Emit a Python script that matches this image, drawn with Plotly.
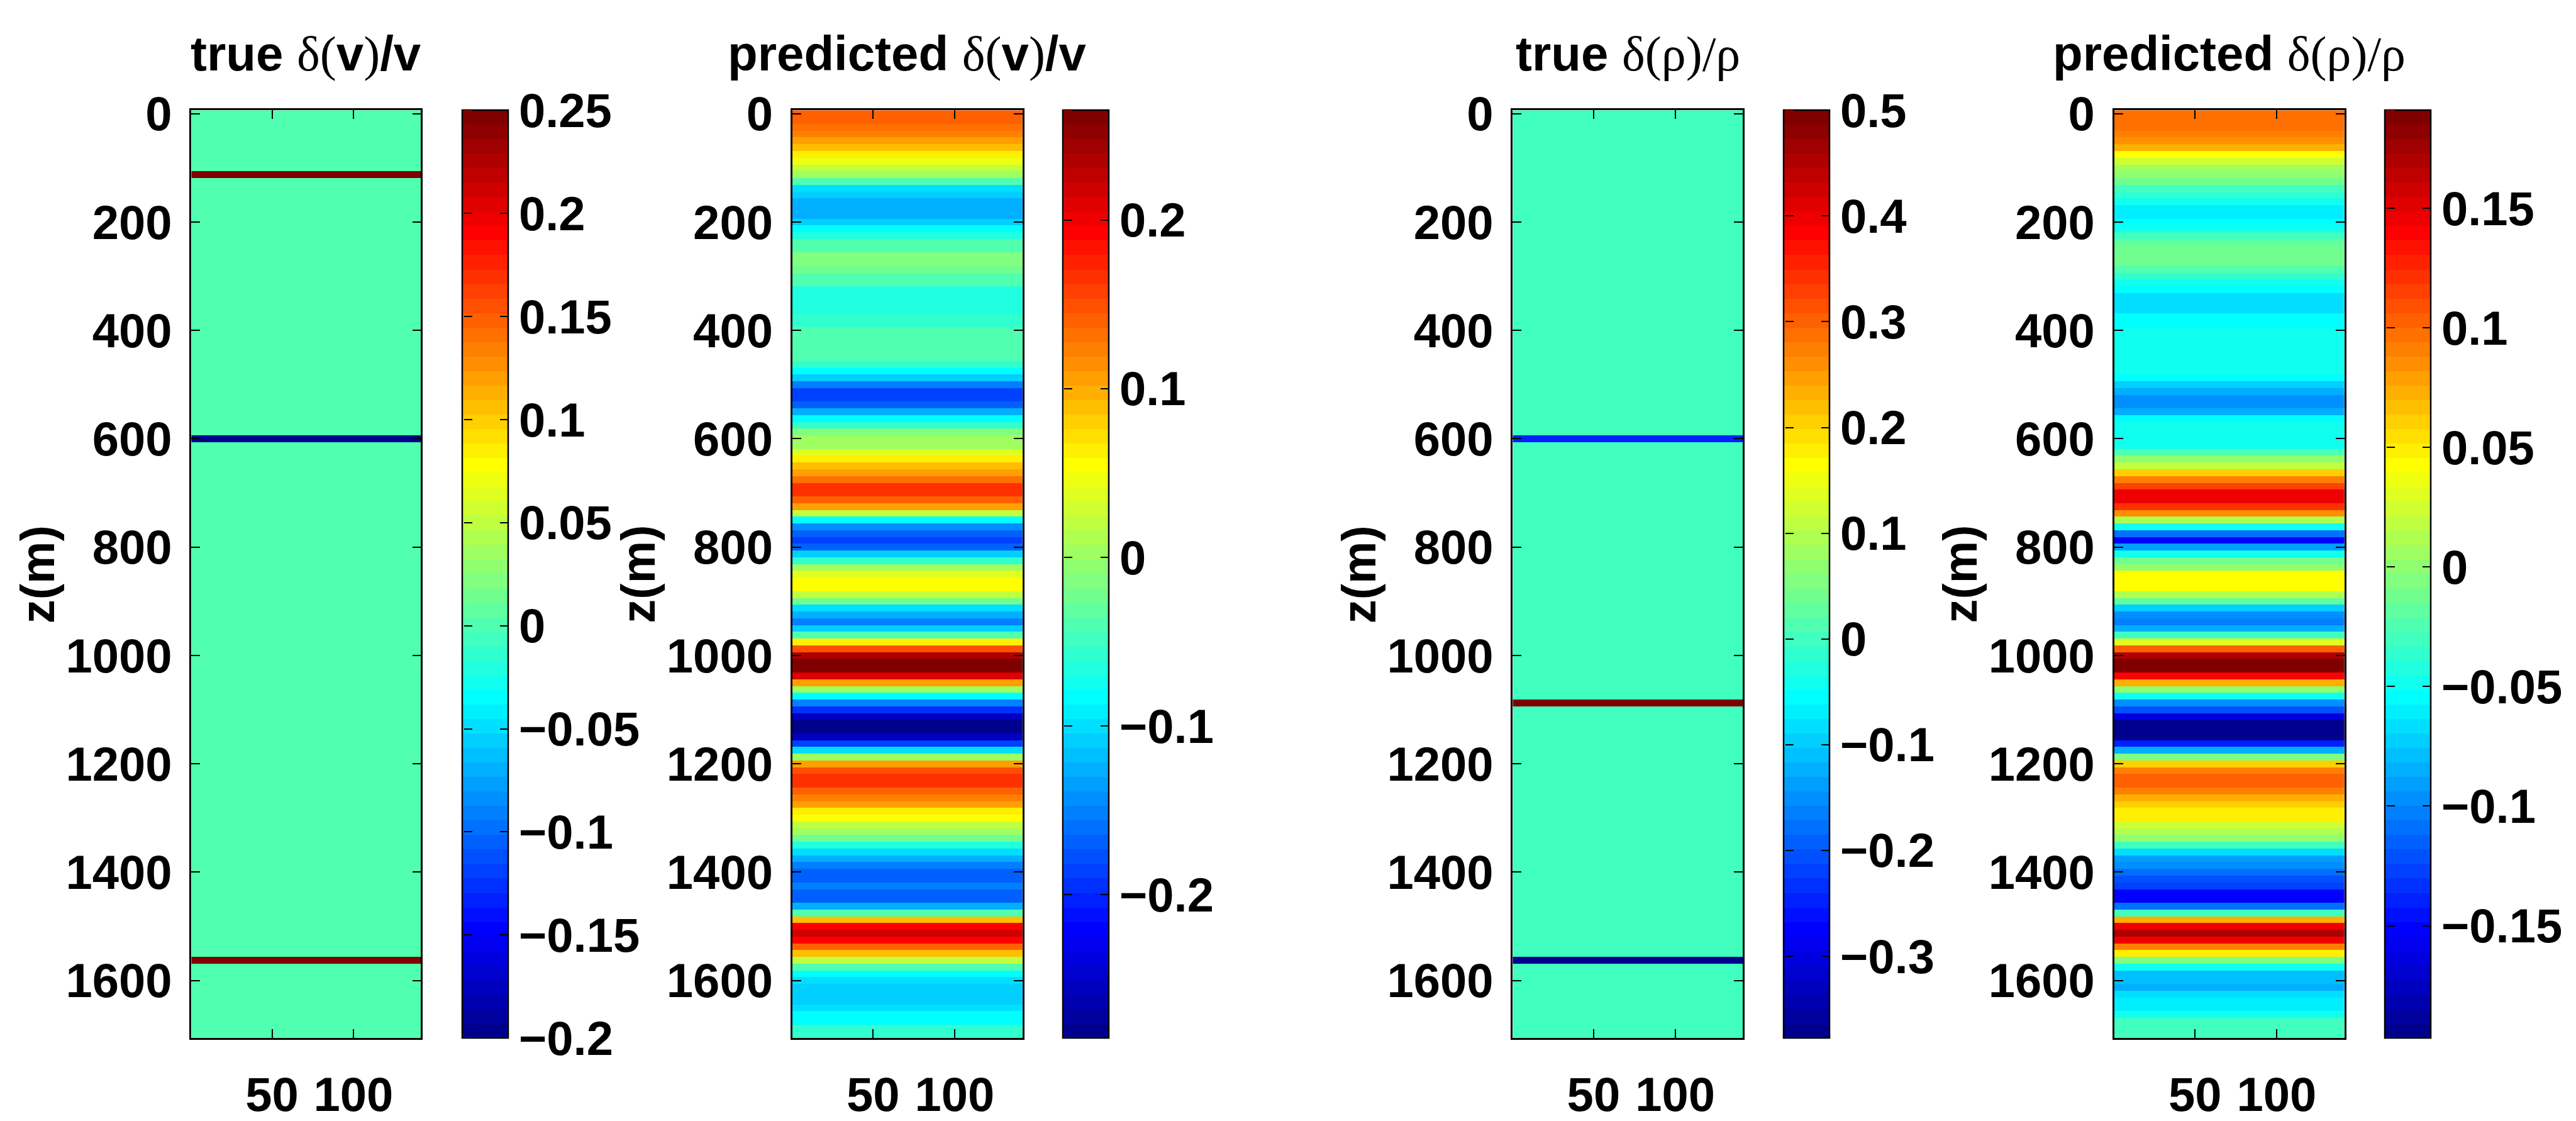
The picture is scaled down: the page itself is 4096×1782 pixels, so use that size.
import numpy as np
import plotly.graph_objects as go

# ---------------- data ----------------
dz = 12.5
depth = [dz * k for k in range(137)]          # z (m), sample centres
trace_x = list(range(1, 142))                  # horizontal sample index

# true models: zero background with thin layers
true_v_layer_depth = [112.5, 600.0, 1562.5]
true_v_layer_value = [0.25, -0.2, 0.25]
true_rho_layer_depth = [600.0, 1087.5, 1562.5]
true_rho_layer_value = [-0.245, 0.5, -0.3775]

# predicted profiles (one value per depth sample)
pred_v = [0.142, 0.142, 0.132, 0.121, 0.110, 0.093, 0.067, 0.042, 0.016, 0.007,
          -0.036, -0.096, -0.113, -0.130, -0.130, -0.130, -0.113, -0.087, -0.062, -0.044,
          -0.036, -0.018, -0.018, -0.027, -0.044, -0.044, -0.070, -0.070, -0.070, -0.070,
          -0.053, -0.053, -0.036, -0.036, -0.036, -0.036, -0.036, -0.053, -0.080, -0.105,
          -0.156, -0.190, -0.190, -0.165, -0.130, -0.087, -0.053, -0.018, -0.001, 0.007,
          0.033, 0.067, 0.093, 0.110, 0.128, 0.162, 0.170, 0.142, 0.102, 0.016,
          -0.079, -0.139, -0.165,
          -0.190, -0.165, -0.113, -0.053, -0.001, 0.033, 0.051, 0.051, 0.016, -0.027,
          -0.096, -0.130, -0.148, -0.113, -0.036, 0.067, 0.153, 0.231, 0.262, 0.262,
          0.205, 0.110, 0.007, -0.079, -0.148, -0.199, -0.259, -0.280, -0.280, -0.251,
          -0.182, -0.096, 0.007, 0.102, 0.153, 0.170, 0.170, 0.142, 0.121, 0.102,
          0.067, 0.051, 0.024, 0.007, -0.027, -0.070, -0.096, -0.130, -0.148, -0.165,
          -0.165, -0.156, -0.173, -0.173, -0.130, -0.036, 0.093, 0.188, 0.222, 0.196,
          0.142, 0.085, 0.016, -0.036, -0.079, -0.096, -0.113, -0.113, -0.109, -0.096,
          -0.079, -0.079, -0.053, -0.053]

pred_rho = [0.100, 0.100, 0.100, 0.094, 0.082, 0.070, 0.040, 0.027, 0.009, -0.003,
            -0.015, -0.033, -0.039, -0.046, -0.060, -0.060, -0.057, -0.051, -0.033, -0.021,
            -0.015, -0.015, -0.015, -0.027, -0.039, -0.051, -0.057, -0.064, -0.064, -0.064,
            -0.055, -0.055, -0.046, -0.046, -0.046, -0.046, -0.046, -0.046,
            -0.051, -0.057, -0.070, -0.082, -0.100, -0.100, -0.082, -0.057,
            -0.046, -0.046, -0.046, -0.046,
            -0.027, -0.003, 0.021, 0.058, 0.094, 0.118, 0.143, 0.143, 0.124, 0.082,
            0.015, -0.051, -0.112,
            -0.149, -0.088, -0.046, -0.015, 0.003, 0.040, 0.040, 0.040, 0.015, -0.021,
            -0.070, -0.094, -0.106, -0.082, -0.033, 0.033, 0.104, 0.167, 0.187, 0.187,
            0.137, 0.070, -0.003, -0.051, -0.094, -0.124, -0.166, -0.191, -0.191, -0.191,
            -0.142, -0.082, -0.009, 0.058, 0.094, 0.104, 0.104, 0.088, 0.070, 0.060,
            0.051, 0.051, 0.027, 0.015, -0.003, -0.033, -0.064, -0.088, -0.100, -0.112,
            -0.124, -0.130, -0.149, -0.149, -0.112, -0.033, 0.070, 0.143, 0.167, 0.143,
            0.094, 0.051, -0.009, -0.051, -0.076, -0.076, -0.082, -0.064, -0.060, -0.060,
            -0.051, -0.033, -0.033, -0.033]

# colour ranges (colorbar limits)
crange_true_v = [-0.2, 0.25]
crange_pred_v = [-0.285, 0.265]
crange_true_rho = [-0.3775, 0.5]
crange_pred_rho = [-0.197, 0.191]

cb_ticks_true_v = [-0.2, -0.15, -0.1, -0.05, 0, 0.05, 0.1, 0.15, 0.2, 0.25]
cb_ticks_pred_v = [-0.2, -0.1, 0, 0.1, 0.2]
cb_ticks_true_rho = [-0.3, -0.2, -0.1, 0, 0.1, 0.2, 0.3, 0.4, 0.5]
cb_ticks_pred_rho = [-0.15, -0.1, -0.05, 0, 0.05, 0.1, 0.15]

y_ticks = [0, 200, 400, 600, 800, 1000, 1200, 1400, 1600]
x_ticks = [50, 100]

# ---------------- helpers ----------------
def jet64():
    m = 64
    n = 16
    u = [i / n for i in range(1, n + 1)] + [1.0] * (n - 1) + [i / n for i in range(n, 0, -1)]
    g = [8 + i for i in range(1, len(u) + 1)]
    r = [gi + n for gi in g]
    b = [gi - n for gi in g]
    J = [[0.0, 0.0, 0.0] for _ in range(m)]
    for idx, ui in enumerate(u):
        if 1 <= r[idx] <= m:
            J[r[idx] - 1][0] = ui
        if 1 <= g[idx] <= m:
            J[g[idx] - 1][1] = ui
        if 1 <= b[idx] <= m:
            J[b[idx] - 1][2] = ui
    cs = []
    for i, (rr, gg, bb) in enumerate(J):
        c = 'rgb(%d,%d,%d)' % (round(rr * 255), round(gg * 255), round(bb * 255))
        cs.append([i / m, c])
        cs.append([(i + 1) / m, c])
    return cs

JET = jet64()

def layered(layer_depth, layer_value):
    prof = np.zeros(len(depth))
    for d, v in zip(layer_depth, layer_value):
        prof[int(np.argmin(np.abs(np.array(depth) - d)))] = v
    return prof

def grid(profile):
    p = np.asarray(profile, dtype=float)
    return np.tile(p[:, None], (1, len(trace_x)))

def fmt(v):
    if v == 0:
        return '0'
    s = ('%g' % abs(v))
    return ('\u2212' + s) if v < 0 else s

# ---------------- layout geometry ----------------
W, H = 4096, 1782
REF_W = 4480.0
S = W / REF_W
x_dom = [(333, 732), (1378, 1778), (2631, 3031), (3677, 4077)]
cb_left = [804, 1848, 3102, 4148]
y_top_ref, y_bot_ref = 158, 1842
y0 = 1 - (y_bot_ref * S) / H
y1 = 1 - (y_top_ref * S) / H
TICKLEN = 14

FONT = 'Liberation Sans'
FS = 76
FS_TITLE = 78
tickfont = dict(family=FONT, size=FS, color='black', weight='bold')

profiles = [layered(true_v_layer_depth, true_v_layer_value), pred_v,
            layered(true_rho_layer_depth, true_rho_layer_value), pred_rho]
cranges = [crange_true_v, crange_pred_v, crange_true_rho, crange_pred_rho]
cbticks = [cb_ticks_true_v, cb_ticks_pred_v, cb_ticks_true_rho, cb_ticks_pred_rho]

serif = 'font-family:Liberation Serif;font-weight:normal'
titles = [
    'true <span style="%s">\u03b4(</span>v<span style="%s">)</span>/v' % (serif, serif),
    'predicted <span style="%s">\u03b4(</span>v<span style="%s">)</span>/v' % (serif, serif),
    'true <span style="%s">\u03b4(\u03c1)/\u03c1</span>' % serif,
    'predicted <span style="%s">\u03b4(\u03c1)/\u03c1</span>' % serif,
]

fig = go.Figure()
annotations = []
for i in range(4):
    sfx = '' if i == 0 else str(i + 1)
    xl, xr = x_dom[i]
    fig.add_trace(go.Heatmap(
        x=trace_x, y=depth, z=grid(profiles[i]),
        colorscale=JET, zmin=cranges[i][0], zmax=cranges[i][1],
        xaxis='x' + sfx, yaxis='y' + sfx, hoverinfo='skip',
        colorbar=dict(
            x=cb_left[i] / REF_W, xanchor='left', xpad=0,
            y=y0, yanchor='bottom', ypad=0, len=y1 - y0, lenmode='fraction',
            thickness=80 * S, thicknessmode='pixels',
            outlinewidth=2.5, outlinecolor='black',
            ticks='inside', ticklen=TICKLEN, tickwidth=2, tickcolor='black',
            tickvals=cbticks[i], ticktext=[fmt(v) for v in cbticks[i]],
            tickfont=tickfont,
        ),
    ))
    fig.layout['xaxis' + sfx] = dict(
        domain=[xl / REF_W, xr / REF_W], range=[0.5, 141.5], anchor='y' + sfx,
        tickvals=x_ticks, ticks='inside', ticklen=TICKLEN, tickwidth=2, tickcolor='black',
        showline=True, linewidth=2.5, linecolor='black', mirror='ticks',
        showgrid=False, zeroline=False, tickfont=tickfont, ticklabelstandoff=22,
    )
    fig.layout['yaxis' + sfx] = dict(
        domain=[y0, y1], range=[1706.25, -6.25], anchor='x' + sfx,
        tickvals=y_ticks, ticks='inside', ticklen=TICKLEN, tickwidth=2, tickcolor='black',
        showline=True, linewidth=2.5, linecolor='black', mirror='ticks',
        showgrid=False, zeroline=False, tickfont=tickfont, ticklabelstandoff=13,
    )
    annotations.append(dict(
        text=titles[i], xref='paper', yref='paper',
        x=((xl + xr) / 2) / REF_W, y=1 - 50 / H, xanchor='center', yanchor='middle',
        showarrow=False, font=dict(family=FONT, size=FS_TITLE, color='black', weight='bold'),
    ))
    annotations.append(dict(
        text='z(m)', xref='paper', yref='paper', textangle=-90,
        x=(xl - 268) / REF_W, y=(y0 + y1) / 2, xanchor='center', yanchor='middle',
        showarrow=False, font=dict(family=FONT, size=FS, color='black', weight='bold'),
    ))

# second, narrow copy of each colour bar laid over the left edge of the first one,
# so that the inward ticks also appear on the left side (as in the MATLAB colorbar)
for i in range(4):
    sfx = '' if i == 0 else str(i + 1)
    fig.add_trace(go.Heatmap(
        x=trace_x, y=depth, z=grid(profiles[i]),
        colorscale=JET, zmin=cranges[i][0], zmax=cranges[i][1],
        xaxis='x' + sfx, yaxis='y' + sfx, hoverinfo='skip',
        colorbar=dict(
            x=(cb_left[i] * S + 1.5) / W, xanchor='left', xpad=0,
            y=y0, yanchor='bottom', ypad=0, len=y1 - y0, lenmode='fraction',
            thickness=TICKLEN, thicknessmode='pixels',
            outlinewidth=0,
            ticks='inside', ticklen=TICKLEN - 1, tickwidth=2, tickcolor='black',
            tickvals=cbticks[i], showticklabels=False,
        ),
    ))

fig.update_layout(
    width=W, height=H, margin=dict(l=0, r=0, t=0, b=0),
    paper_bgcolor='white', plot_bgcolor='white', showlegend=False,
    font=dict(family=FONT, size=FS, color='black', weight='bold'),
    annotations=annotations,
)

fig.write_html('out.html')
